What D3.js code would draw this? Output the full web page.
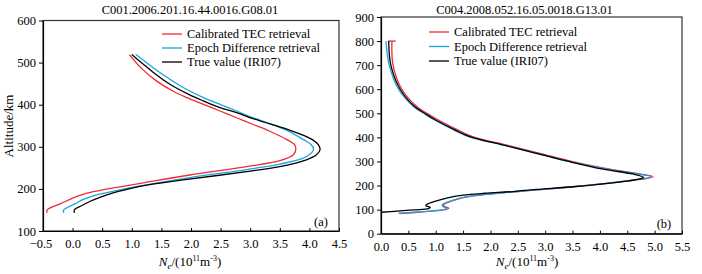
<!DOCTYPE html>
<html>
<head>
<meta charset="utf-8">
<script src="https://cdn.jsdelivr.net/npm/d3@7"></script>
<style>
  body { margin: 0; background: #fff; }
  svg { display: block; font-family: "Liberation Serif", "Times New Roman", serif; }
</style>
</head>
<body>
<svg id="chart" width="702" height="274"></svg>
<script>
// ---- data ----
const seriesNames = ['Calibrated TEC retrieval', 'Epoch Difference retrieval', 'True value (IRI07)']
const seriesColors = ['#ee2b36', '#1aa3e0', '#000000']

const titleA = 'C001.2006.201.16.44.0016.G08.01'
const titleB = 'C004.2008.052.16.05.0018.G13.01'

const xTicksA = [-0.5, 0, 0.5, 1, 1.5, 2, 2.5, 3, 3.5, 4, 4.5]
const yTicksA = [100, 200, 300, 400, 500, 600]
const xTicksB = [0, 0.5, 1, 1.5, 2, 2.5, 3, 3.5, 4, 4.5, 5, 5.5]
const yTicksB = [0, 100, 200, 300, 400, 500, 600, 700, 800, 900]

// panel (a): altitude (km) and Ne (1e11 m^-3) along each profile
const redAltA = [143, 150, 165, 178, 188, 196, 205, 215, 233, 253, 267, 281, 294, 305, 317, 337, 353, 369, 385, 401, 417, 432, 456, 488, 519]
const redNeA = [-0.43, -0.43, -0.2, 0.0, 0.2, 0.45, 0.8, 1.22, 1.98, 2.94, 3.5, 3.73, 3.77, 3.75, 3.62, 3.33, 3.05, 2.77, 2.49, 2.21, 1.93, 1.7, 1.42, 1.15, 0.96]
const blueAltA = [143, 150, 165, 175, 184, 192, 206, 227, 246, 259, 273, 285, 295, 305, 317, 339, 355, 369, 385, 401, 417, 436, 460, 488, 519]
const blueNeA = [-0.15, -0.15, 0.05, 0.18, 0.36, 0.6, 1.1, 1.98, 2.94, 3.5, 3.9, 4.03, 4.07, 4.03, 3.9, 3.62, 3.33, 3.05, 2.77, 2.49, 2.21, 1.93, 1.65, 1.36, 1.07]
const blackAltA = [143, 150, 160, 170, 180, 190, 200, 210, 222, 241, 253, 269, 281, 293, 305, 317, 327, 341, 353, 367, 381, 393, 409, 424, 448, 476, 498, 519]
const blackNeA = [0.03, 0.03, 0.15, 0.29, 0.46, 0.67, 0.95, 1.3, 1.9, 2.94, 3.5, 3.95, 4.12, 4.18, 4.15, 4.05, 3.9, 3.64, 3.36, 3.05, 2.77, 2.49, 2.21, 1.97, 1.65, 1.37, 1.18, 1.0]

// panel (b)
const redAltB = [83, 88, 94, 100, 106, 113, 120, 130, 145, 158, 170, 182, 194, 208, 221, 237, 251, 271, 299, 334, 368, 401, 431, 472, 500, 527, 600, 700, 800]
const redNeB = [0.34, 0.62, 0.92, 1.17, 1.24, 1.16, 1.14, 1.22, 1.42, 1.72, 2.22, 2.86, 3.47, 4.08, 4.58, 4.97, 4.65, 4.1, 3.5, 2.9, 2.3, 1.7, 1.4, 1.05, 0.84, 0.66, 0.38, 0.22, 0.2]
const redCapB = [0.13, 0.27] // short horizontal bar at the top of the red profile
const blueAltB = [85, 89, 94, 100, 106, 113, 120, 130, 145, 158, 170, 182, 194, 208, 221, 237, 251, 271, 299, 334, 368, 401, 431, 472, 500, 527, 600, 700, 800]
const blueNeB = [0.32, 0.6, 0.9, 1.15, 1.2, 1.13, 1.12, 1.2, 1.4, 1.7, 2.2, 2.84, 3.45, 4.06, 4.55, 4.93, 4.6, 4.06, 3.45, 2.84, 2.24, 1.63, 1.33, 0.98, 0.78, 0.6, 0.32, 0.15, 0.09]
const blackAltB = [89, 94, 99, 104, 110, 116, 122, 135, 148, 160, 168, 175, 184, 194, 207, 220, 234, 248, 268, 299, 334, 368, 401, 431, 472, 500, 527, 600, 700, 800]
const blackNeB = [0, 0.3, 0.6, 0.87, 0.9, 0.82, 0.84, 1.0, 1.2, 1.5, 1.9, 2.4, 2.84, 3.45, 4.06, 4.55, 4.8, 4.6, 4.06, 3.45, 2.84, 2.24, 1.65, 1.35, 1.0, 0.8, 0.62, 0.35, 0.18, 0.14]

const svg = d3.select('#chart')

function drawPanel(p) {
    const x = d3.scaleLinear().domain(p.xDomain).range(p.xRange)
    const y = d3.scaleLinear().domain(p.yDomain).range(p.yRange)
    const g = svg.append('g')

    // frame (top + right)
    g.append('rect')
        .attr('x', p.xRange[0]).attr('y', p.yRange[1])
        .attr('width', p.xRange[1] - p.xRange[0])
        .attr('height', p.yRange[0] - p.yRange[1])
        .attr('fill', 'none').attr('stroke', '#333').attr('stroke-width', 1.2)

    // x axis, ticks pointing inward
    const xAxis = g.append('g')
        .attr('transform', `translate(0, ${p.yRange[0]})`)
        .call(d3.axisBottom(x).tickValues(p.xTicks).tickFormat(d3.format('.1f'))
            .tickSizeInner(-3).tickSizeOuter(0).tickPadding(8))
    // y axis, ticks outward
    const yAxis = g.append('g')
        .attr('transform', `translate(${p.xRange[0]}, 0)`)
        .call(d3.axisLeft(y).tickValues(p.yTicks).tickSizeInner(4).tickSizeOuter(0).tickPadding(3))

    ;[xAxis, yAxis].forEach(a => {
        a.select('.domain').attr('stroke', '#000').attr('stroke-width', 1.2)
        a.selectAll('.tick line').attr('stroke', '#000')
        a.selectAll('text').attr('font-family', 'Liberation Serif').attr('font-size', 12.5).attr('fill', '#000')
    })
    xAxis.selectAll('text').attr('dx', d => d < 0 ? '-0.2em' : 0)

    const line = d3.line()
        .x(d => x(d[0]))
        .y(d => y(d[1]))
        .curve(d3.curveCatmullRom.alpha(0.5))

    if (p.cap) {
        g.append('line')
            .attr('x1', x(p.cap.ne[0])).attr('x2', x(p.cap.ne[1]))
            .attr('y1', y(p.cap.alt)).attr('y2', y(p.cap.alt))
            .attr('stroke', p.cap.color).attr('stroke-width', 1.3)
    }
    p.series.forEach((s, i) => {
        g.append('path')
            .datum(d3.zip(s.ne, s.alt))
            .attr('d', line)
            .attr('fill', 'none')
            .attr('stroke', seriesColors[i])
            .attr('stroke-width', 1.3)
    })

    // legend
    const legend = g.append('g').attr('transform', `translate(${p.legend[0]}, ${p.legend[1]})`)
    seriesNames.forEach((name, i) => {
        const row = legend.append('g').attr('transform', `translate(0, ${i * p.legendStep})`)
        row.append('line').attr('x1', 0).attr('x2', 20).attr('y1', 0).attr('y2', 0)
            .attr('stroke', seriesColors[i]).attr('stroke-width', 1.3)
        row.append('text').attr('x', 25).attr('dy', '0.33em')
            .attr('font-size', 12.5).text(name)
    })

    // title
    g.append('text')
        .attr('x', (p.xRange[0] + p.xRange[1]) / 2 + p.titleDx).attr('y', 14)
        .attr('text-anchor', 'middle').attr('font-size', 12.5)
        .text(p.title)

    // panel tag
    g.append('text')
        .attr('x', p.tag[0]).attr('y', p.tag[1])
        .attr('text-anchor', 'middle').attr('dy', '0.35em').attr('font-size', 12.5)
        .text(p.tagText)

    // x label: Ne/(10^11 m^-3)
    const xl = g.append('text')
        .attr('x', p.xLabel[0]).attr('y', p.xLabel[1])
        .attr('text-anchor', 'middle').attr('font-size', 13)
    xl.append('tspan').attr('font-style', 'italic').text('N')
    xl.append('tspan').attr('font-size', 9).attr('dy', 3).attr('font-style', 'italic').text('e')
    xl.append('tspan').attr('dy', -3).text('/(10')
    xl.append('tspan').attr('font-size', 8).attr('dy', -5).text('11')
    xl.append('tspan').attr('dy', 5).text('m')
    xl.append('tspan').attr('font-size', 8).attr('dy', -5).text('-3')
    xl.append('tspan').attr('dy', 5).text(')')
}

drawPanel({
    xDomain: [-0.5, 4.5], xRange: [43, 339],
    yDomain: [100, 600], yRange: [231, 20.5],
    xTicks: xTicksA, yTicks: yTicksA,
    series: [
        { alt: redAltA, ne: redNeA },
        { alt: blueAltA, ne: blueNeA },
        { alt: blackAltA, ne: blackNeA }
    ],
    legend: [162, 34], legendStep: 14,
    title: titleA, titleDx: -1,
    tag: [321, 222], tagText: '(a)',
    xLabel: [190, 266]
})

drawPanel({
    xDomain: [0, 5.5], xRange: [381, 682],
    yDomain: [0, 900], yRange: [233.7, 17],
    xTicks: xTicksB, yTicks: yTicksB,
    series: [
        { alt: redAltB, ne: redNeB },
        { alt: blueAltB, ne: blueNeB },
        { alt: blackAltB, ne: blackNeB }
    ],
    cap: { ne: redCapB, alt: 800, color: seriesColors[0] },
    legend: [429, 32], legendStep: 14.5,
    title: titleB, titleDx: -7,
    tag: [664, 224], tagText: '(b)',
    xLabel: [527, 266]
})

// y axis label (shared)
svg.append('text')
    .attr('transform', 'translate(13, 126) rotate(-90)')
    .attr('text-anchor', 'middle').attr('font-size', 13)
    .text('Altitude/km')
</script>
</body>
</html>
